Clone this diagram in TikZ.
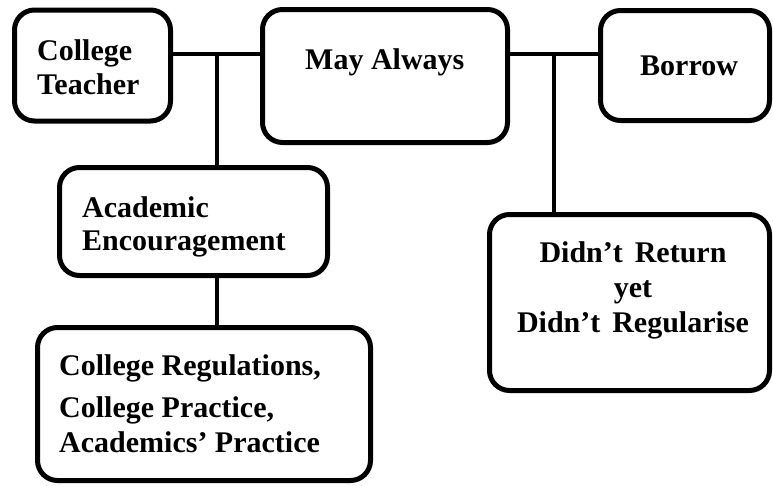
\documentclass[tikz,border=0pt]{standalone}
\usepackage{fontspec}
\setmainfont{Liberation Serif}
\begin{document}
\begin{tikzpicture}[x=1pt,y=-1pt,
  box/.style={draw=black,line width=5pt,rounded corners=20pt,inner sep=0pt,fill=white},
  conn/.style={draw=black,line width=4.5pt},
  lbl/.style={inner sep=0pt,font=\fontsize{30}{36}\selectfont\bfseries}]
\useasboundingbox[fill=white] (0,0) rectangle (773,485);
% boxes
\node[box,minimum width=156pt,minimum height=111pt] (ct) at (92.5,65.5) {};
\node[box,minimum width=245pt,minimum height=133pt] (ma) at (385,76) {};
\node[box,minimum width=169pt,minimum height=110pt] (bo) at (685,65.5) {};
\node[box,minimum width=268pt,minimum height=108pt] (ae) at (193.5,221.5) {};
\node[box,minimum width=333pt,minimum height=153pt] (cr) at (204,404) {};
\node[box,minimum width=280pt,minimum height=176pt] (dr) at (629.5,302.5) {};
% junction points
\coordinate (j1) at (217,54);
\coordinate (j2) at (554,54);
% connectors
\draw[conn] (ct.east |- j1) -- (ma.west |- j1);
\draw[conn] (j1) -- (j1 |- ae.north);
\draw[conn] (ma.east |- j2) -- (bo.west |- j2);
\draw[conn] (j2) -- (j2 |- dr.north);
\draw[conn] (j1 |- ae.south) -- (j1 |- cr.north);
% texts
\node[lbl,anchor=base west] (t1) at (37,60) {College};
\node[lbl,anchor=base west] (t2) at (37,94) {Teacher};
\node[lbl,anchor=base west] (t3) at (305,69) {May Always};
\node[lbl,anchor=base west] (t4) at (640,75) {Borrow};
\node[lbl,anchor=base west] (t5) at (82,217) {Academic};
\node[lbl,anchor=base west] (t6) at (82,250) {Encouragement};
\node[lbl,anchor=base] (t7) at (633,262) {Didn’t\hspace{0.4em}Return};
\node[lbl,anchor=base] (t8) at (633,297) {yet};
\node[lbl,anchor=base] (t9) at (633,332) {Didn’t\hspace{0.4em}Regularise};
\node[lbl,anchor=base west] (t10) at (59,375) {College Regulations,};
\node[lbl,anchor=base west] (t11) at (59,417) {College Practice,};
\node[lbl,anchor=base west] (t12) at (59,452) {Academics’ Practice};
\end{tikzpicture}
\end{document}
